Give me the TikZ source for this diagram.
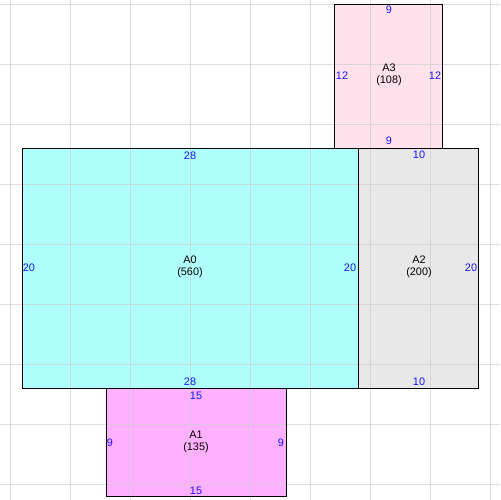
\documentclass[tikz,border=0pt]{standalone}
\usepackage{fontspec}
\setmainfont{Liberation Sans}
\definecolor{cA0}{RGB}{176,255,255}
\definecolor{cA1}{RGB}{255,176,255}
\definecolor{cA2}{RGB}{232,232,232}
\definecolor{cA3}{RGB}{255,226,236}
\definecolor{gridc}{RGB}{204,204,204}
\definecolor{dimc}{RGB}{20,20,255}
\tikzset{
  room/.style={draw=black, line width=0.5pt},
  dimlbl/.style={text=dimc, inner sep=0pt, font=\fontsize{6.2pt}{6.8pt}\selectfont},
  namelbl/.style={text=black, inner sep=0pt, align=center, font=\fontsize{6.2pt}{6.8pt}\selectfont},
  gridline/.style={draw=gridc, line width=0.55pt, opacity=0.65}
}
\begin{document}
\begin{tikzpicture}[x=0.02cm, y=-0.02cm]
\useasboundingbox (0,0) rectangle (500,500);
\fill[white] (0,0) rectangle (500,500);
% fills
\fill[cA0] (22,148) rectangle (358,388);
\fill[cA2] (358,148) rectangle (478,388);
\fill[cA3] (334,4) rectangle (442,148);
\fill[cA1] (106,388) rectangle (286,496);
% grid
\foreach \i in {0,...,8} {
  \draw[gridline] (10.5+60*\i,0) -- (10.5+60*\i,500);
  \draw[gridline] (0,4.5+60*\i) -- (500,4.5+60*\i);
}
% outlines
\draw[room] (22,148) rectangle (358,388);
\draw[room] (358,148) rectangle (478,388);
\draw[room] (334,4) rectangle (442,148);
\draw[room] (106,388) rectangle (286,496);
% A0
\node[namelbl] (nA0) at (190,267) {A0\\(560)};
\node[dimlbl] (a0t) at (190,156) {28};
\node[dimlbl] (a0b) at (190,382) {28};
\node[dimlbl] (a0l) at (29,268) {20};
\node[dimlbl] (a0r) at (350,268) {20};
% A2
\node[namelbl] (nA2) at (419,267) {A2\\(200)};
\node[dimlbl] (a2t) at (419,155) {10};
\node[dimlbl] (a2b) at (419,382) {10};
\node[dimlbl] (a2r) at (471,268) {20};
% A3
\node[namelbl] (nA3) at (389,75) {A3\\(108)};
\node[dimlbl] (a3t) at (389,10) {9};
\node[dimlbl] (a3b) at (389,141) {9};
\node[dimlbl] (a3l) at (342,76) {12};
\node[dimlbl] (a3r) at (435,76) {12};
% A1
\node[namelbl] (nA1) at (196,442) {A1\\(135)};
\node[dimlbl] (a1t) at (196,396) {15};
\node[dimlbl] (a1b) at (196,491) {15};
\node[dimlbl] (a1l) at (110,443) {9};
\node[dimlbl] (a1r) at (281,443) {9};
\end{tikzpicture}
\end{document}
